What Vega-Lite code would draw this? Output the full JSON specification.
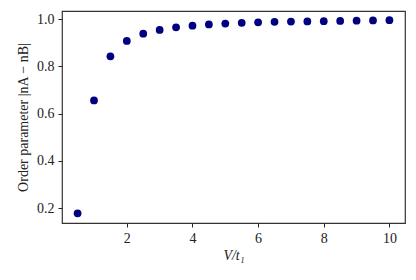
{
  "$schema": "https://vega.github.io/schema/vega-lite/v6.json",
  "width": 343,
  "height": 212,
  "autosize": {"type": "none"},
  "padding": {"left": 62, "top": 11, "right": 11, "bottom": 57},
  "background": "white",
  "config": {
    "view": {"stroke": "#333333", "strokeWidth": 1.2},
    "font": "Liberation Serif",
    "axis": {
      "grid": false,
      "domain": false,
      "tickColor": "#222222",
      "tickSize": 4,
      "labelFont": "Liberation Serif",
      "labelFontSize": 14,
      "labelColor": "#222222",
      "titleFont": "Liberation Serif",
      "titleFontSize": 14,
      "titleFontWeight": "normal",
      "titleColor": "#222222",
      "labelPadding": 4
    }
  },
  "data": {
    "values": [
      {"V": 0.5, "op": 0.178},
      {"V": 1.0, "op": 0.656},
      {"V": 1.5, "op": 0.843},
      {"V": 2.0, "op": 0.908},
      {"V": 2.5, "op": 0.939},
      {"V": 3.0, "op": 0.955},
      {"V": 3.5, "op": 0.966},
      {"V": 4.0, "op": 0.973},
      {"V": 4.5, "op": 0.978},
      {"V": 5.0, "op": 0.982},
      {"V": 5.5, "op": 0.985},
      {"V": 6.0, "op": 0.987},
      {"V": 6.5, "op": 0.989},
      {"V": 7.0, "op": 0.990},
      {"V": 7.5, "op": 0.991},
      {"V": 8.0, "op": 0.992},
      {"V": 8.5, "op": 0.993},
      {"V": 9.0, "op": 0.994},
      {"V": 9.5, "op": 0.995},
      {"V": 10.0, "op": 0.996}
    ]
  },
  "mark": {"type": "circle", "size": 60, "color": "#000080", "opacity": 1},
  "encoding": {
    "x": {
      "field": "V",
      "type": "quantitative",
      "scale": {"domain": [0.025, 10.475], "nice": false, "zero": false},
      "axis": {"values": [2, 4, 6, 8, 10], "title": "V/t₁", "titleFontStyle": "italic", "titlePadding": 3}
    },
    "y": {
      "field": "op",
      "type": "quantitative",
      "scale": {"domain": [0.137, 1.035], "nice": false, "zero": false},
      "axis": {"values": [0.2, 0.4, 0.6, 0.8, 1.0], "format": ".1f", "title": "Order parameter |nA − nB|", "titlePadding": 6}
    }
  }
}
